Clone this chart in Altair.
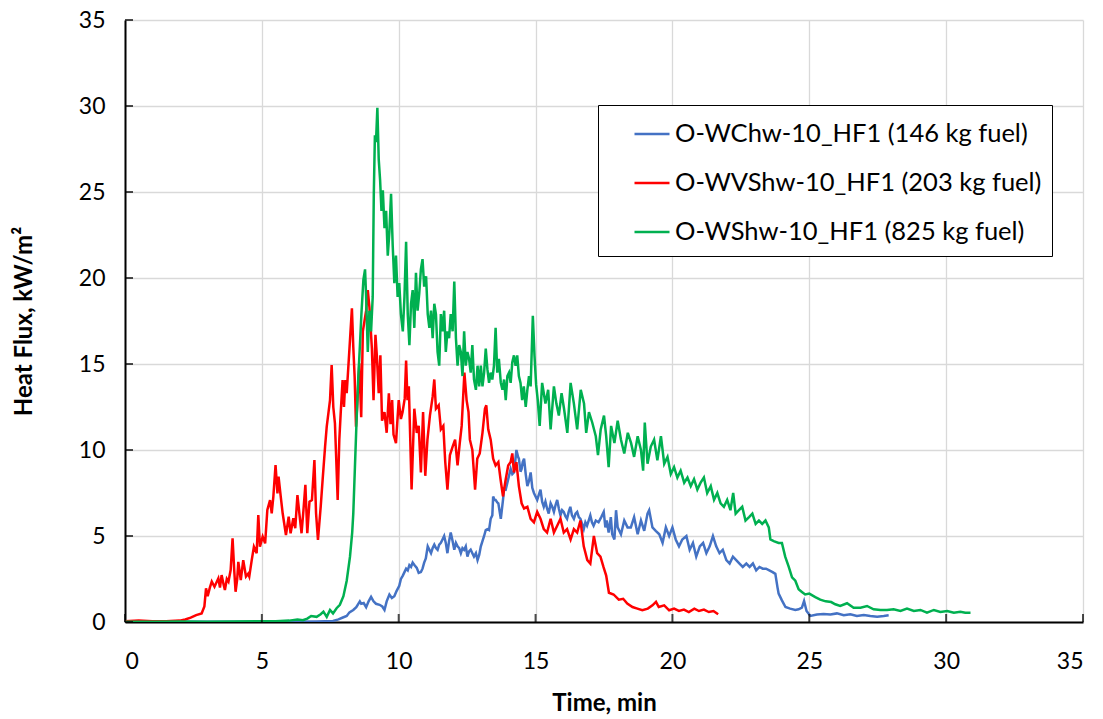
import altair as alt
import pandas as pd

x_ticks = [0, 5, 10, 15, 20, 25, 30, 35]
y_ticks = [0, 5, 10, 15, 20, 25, 30, 35]
series_names = ["O-WChw-10_HF1 (146 kg fuel)", "O-WVShw-10_HF1 (203 kg fuel)", "O-WShw-10_HF1 (825 kg fuel)"]
series_colors = ["#4472C4", "#FF0000", "#00B050"]

blue = [(0,0.02),(2,0.02),(4,0.02),(6,0.02),(7,0.03),(7.3,0.04),(7.6,0.06),(7.8,0.15),(7.96,0.26),(8.1,0.35),(8.2,0.56),(8.34,0.7),(8.45,0.86),(8.58,1.2),(8.63,1.06),(8.72,1.1),(8.81,0.86),(8.9,1.2),(8.99,1.46),(9.08,1.2),(9.17,1.06),(9.3,1.0),(9.4,0.9),(9.48,0.7),(9.56,1.2),(9.66,1.6),(9.75,1.4),(9.84,1.5),(9.92,1.8),(10.02,2.1),(10.08,2.5),(10.15,2.7),(10.21,2.9),(10.27,3.1),(10.33,3.0),(10.39,3.3),(10.45,3.2),(10.51,3.45),(10.58,3.3),(10.66,3.15),(10.73,2.85),(10.81,2.9),(10.87,3.1),(10.93,3.45),(10.99,3.7),(11.06,4.4),(11.12,4.2),(11.18,4.0),(11.24,4.3),(11.3,4.5),(11.36,4.3),(11.42,4.2),(11.48,4.5),(11.54,4.6),(11.6,4.8),(11.66,5.0),(11.72,4.6),(11.78,4.0),(11.84,4.7),(11.9,5.2),(11.97,4.7),(12.03,4.2),(12.09,4.6),(12.15,4.4),(12.21,4.3),(12.27,4.0),(12.33,4.3),(12.39,4.2),(12.45,4.4),(12.51,3.8),(12.57,4.1),(12.63,4.2),(12.69,4.0),(12.75,3.8),(12.82,4.0),(12.88,3.6),(12.94,3.9),(13.0,4.4),(13.06,4.7),(13.12,5.0),(13.18,5.35),(13.24,5.4),(13.3,5.35),(13.36,6.0),(13.42,6.2),(13.45,7.3),(13.5,7.1),(13.54,7.1),(13.6,6.95),(13.64,6.9),(13.73,6.0),(13.81,7.1),(13.85,7.74),(13.91,7.7),(14.0,8.3),(14.09,8.9),(14.15,8.6),(14.21,8.7),(14.26,9.4),(14.3,10.0),(14.36,9.6),(14.39,9.5),(14.45,8.74),(14.49,8.9),(14.53,9.3),(14.58,9.5),(14.64,8.6),(14.7,7.9),(14.76,8.2),(14.82,8.7),(14.88,7.8),(14.94,7.5),(15.0,7.3),(15.06,7.1),(15.12,7.4),(15.18,7.7),(15.24,7.0),(15.3,6.7),(15.36,7.0),(15.42,6.6),(15.48,6.3),(15.55,6.9),(15.61,6.7),(15.67,6.4),(15.73,6.8),(15.79,7.1),(15.85,6.6),(15.91,6.2),(15.97,6.5),(16.03,6.4),(16.09,6.15),(16.15,6.0),(16.21,6.4),(16.27,6.7),(16.33,6.2),(16.4,6.0),(16.46,6.3),(16.52,6.4),(16.58,6.1),(16.64,6.0),(16.7,5.7),(16.76,5.4),(16.82,5.8),(16.88,5.6),(16.94,5.9),(17.0,6.2),(17.06,5.8),(17.12,5.6),(17.2,5.9),(17.3,5.8),(17.4,6.1),(17.49,6.4),(17.55,5.5),(17.6,5.9),(17.67,5.2),(17.75,6.1),(17.8,5.1),(17.88,4.8),(17.94,6.5),(18.0,5.5),(18.12,5.1),(18.24,5.9),(18.36,5.5),(18.48,5.5),(18.6,6.1),(18.73,5.1),(18.85,5.9),(18.97,5.3),(19.09,6.3),(19.15,6.5),(19.27,5.5),(19.39,5.3),(19.52,5.1),(19.64,4.6),(19.76,5.5),(19.88,5.0),(20.0,5.5),(20.12,4.8),(20.24,4.4),(20.36,4.8),(20.51,5.0),(20.63,4.2),(20.75,4.6),(20.87,3.8),(21.0,4.4),(21.12,4.6),(21.24,4.0),(21.36,4.4),(21.48,5.0),(21.6,4.4),(21.72,4.0),(21.84,4.2),(21.97,3.6),(22.09,3.4),(22.21,3.8),(22.33,3.6),(22.45,3.4),(22.57,3.2),(22.7,3.4),(22.82,3.2),(22.94,3.4),(23.06,3.0),(23.18,3.2),(23.3,3.1),(23.42,3.1),(23.54,3.0),(23.66,2.9),(23.76,2.8),(23.84,2.0),(23.88,1.65),(24.0,1.26),(24.13,0.87),(24.3,0.78),(24.49,0.7),(24.61,0.74),(24.73,0.83),(24.81,1.22),(24.9,0.64),(25.04,0.35),(25.28,0.43),(25.52,0.47),(25.77,0.43),(26.01,0.5),(26.26,0.39),(26.5,0.45),(26.74,0.35),(26.99,0.41),(27.23,0.35),(27.48,0.31),(27.72,0.35),(27.9,0.39)]

red = [(0,0.05),(0.5,0.08),(1.0,0.05),(1.5,0.05),(2.0,0.08),(2.2,0.15),(2.4,0.25),(2.6,0.4),(2.8,0.5),(2.9,0.9),(2.96,1.96),(3.02,1.5),(3.1,2.0),(3.17,2.35),(3.27,2.05),(3.41,2.54),(3.47,2.0),(3.53,2.73),(3.6,2.2),(3.65,1.86),(3.72,2.5),(3.78,2.35),(3.86,3.02),(3.93,4.87),(3.99,3.02),(4.04,1.76),(4.1,2.5),(4.14,3.5),(4.23,2.44),(4.32,3.6),(4.42,2.64),(4.5,2.8),(4.54,2.64),(4.63,3.6),(4.71,4.38),(4.81,4.0),(4.87,6.22),(4.93,4.38),(5.03,4.96),(5.12,4.57),(5.2,6.51),(5.3,7.09),(5.36,6.32),(5.42,7.29),(5.5,9.13),(5.57,7.48),(5.61,8.45),(5.69,7.29),(5.76,6.32),(5.88,5.06),(5.98,6.12),(6.05,5.16),(6.15,6.03),(6.22,5.45),(6.3,7.38),(6.37,6.32),(6.45,5.16),(6.52,6.51),(6.59,7.97),(6.66,5.16),(6.74,7.0),(6.83,7.09),(6.92,9.42),(6.98,6.32),(7.05,4.77),(7.15,6.71),(7.22,8.26),(7.31,10.2),(7.37,11.36),(7.43,12.13),(7.49,12.9),(7.55,14.94),(7.61,12.5),(7.67,11.55),(7.71,9.8),(7.77,7.09),(7.83,10.6),(7.88,12.13),(7.95,14.07),(8.0,12.5),(8.05,14.07),(8.1,13.3),(8.16,14.85),(8.22,16.4),(8.29,18.24),(8.34,16.0),(8.39,14.26),(8.44,11.36),(8.5,13.1),(8.56,15.04),(8.63,11.9),(8.69,16.9),(8.75,17.5),(8.81,18.1),(8.87,19.3),(8.93,18.3),(9.02,15.9),(9.08,12.9),(9.15,16.7),(9.2,15.5),(9.27,13.3),(9.33,15.5),(9.39,11.7),(9.48,12.2),(9.56,11.0),(9.64,13.3),(9.7,11.5),(9.76,12.9),(9.81,10.9),(9.9,10.4),(10.0,12.9),(10.08,11.8),(10.14,12.2),(10.22,13.0),(10.27,15.2),(10.32,12.9),(10.37,13.7),(10.47,7.7),(10.57,12.4),(10.66,11.0),(10.73,11.4),(10.81,8.7),(10.89,12.2),(10.97,8.5),(11.05,10.6),(11.14,12.0),(11.24,13.1),(11.3,14.1),(11.36,12.4),(11.46,12.6),(11.54,11.2),(11.63,11.4),(11.7,9.3),(11.78,7.7),(11.87,9.7),(11.97,10.2),(12.06,10.6),(12.15,9.1),(12.23,10.4),(12.3,11.4),(12.4,14.5),(12.48,12.9),(12.55,12.2),(12.6,10.6),(12.69,10.0),(12.79,7.7),(12.87,9.5),(12.96,9.8),(13.06,11.0),(13.15,12.4),(13.2,12.6),(13.27,11.2),(13.36,10.6),(13.45,9.5),(13.54,9.1),(13.64,9.3),(13.72,8.3),(13.81,7.3),(13.91,8.3),(14.0,9.1),(14.09,9.3),(14.15,9.8),(14.21,8.7),(14.3,9.3),(14.39,7.9),(14.49,6.9),(14.58,6.6),(14.7,6.7),(14.82,6.0),(14.94,5.8),(15.06,6.4),(15.18,6.0),(15.3,5.4),(15.42,5.2),(15.55,6.0),(15.67,5.2),(15.79,5.6),(15.91,6.0),(16.03,5.2),(16.15,5.4),(16.28,4.8),(16.4,5.4),(16.52,5.2),(16.64,5.9),(16.76,4.4),(16.89,3.6),(17.0,3.4),(17.13,5.0),(17.25,4.0),(17.37,3.8),(17.48,3.2),(17.58,2.7),(17.68,1.7),(17.85,1.6),(18.04,1.3),(18.2,1.35),(18.35,1.07),(18.54,0.87),(18.72,0.78),(18.9,0.68),(19.1,0.78),(19.27,0.97),(19.4,1.17),(19.5,0.87),(19.7,0.97),(19.88,0.68),(20.06,0.78),(20.24,0.64),(20.42,0.72),(20.6,0.58),(20.8,0.78),(20.97,0.64),(21.15,0.72),(21.33,0.58),(21.5,0.64),(21.67,0.45)]

green = [(0,0.02),(1,0.02),(2,0.03),(3,0.02),(4,0.03),(5,0.05),(5.5,0.05),(6.0,0.08),(6.3,0.15),(6.5,0.1),(6.66,0.2),(6.8,0.35),(7.0,0.3),(7.15,0.45),(7.25,0.6),(7.37,0.3),(7.49,0.7),(7.6,0.5),(7.73,0.8),(7.85,1.0),(7.98,1.5),(8.1,2.4),(8.22,3.8),(8.3,5.2),(8.34,6.3),(8.4,9.0),(8.46,11.7),(8.52,14.1),(8.58,16.0),(8.64,18.0),(8.71,19.9),(8.77,20.5),(8.81,18.9),(8.87,15.7),(8.93,18.1),(8.99,16.9),(9.05,18.9),(9.09,24.9),(9.13,28.3),(9.17,27.9),(9.22,29.9),(9.27,26.9),(9.32,25.7),(9.37,23.9),(9.42,25.1),(9.48,22.9),(9.54,23.9),(9.6,21.3),(9.66,22.7),(9.72,24.9),(9.78,21.9),(9.84,19.7),(9.9,21.3),(9.96,18.9),(10.02,19.7),(10.08,17.9),(10.15,16.9),(10.21,18.9),(10.27,22.1),(10.33,17.9),(10.39,16.1),(10.45,18.5),(10.51,19.3),(10.57,17.1),(10.63,20.3),(10.69,18.1),(10.75,19.1),(10.81,20.5),(10.87,21.1),(10.93,19.5),(11.0,20.1),(11.06,17.9),(11.12,17.1),(11.18,18.1),(11.24,16.5),(11.3,18.5),(11.36,17.9),(11.42,15.7),(11.48,14.9),(11.54,17.9),(11.6,16.9),(11.66,18.1),(11.72,15.7),(11.78,16.9),(11.84,16.5),(11.9,17.9),(11.97,16.9),(12.03,19.8),(12.09,16.5),(12.15,14.9),(12.21,16.1),(12.27,15.7),(12.33,14.3),(12.39,16.9),(12.45,14.9),(12.51,15.7),(12.57,15.3),(12.63,14.5),(12.69,16.1),(12.75,14.1),(12.82,13.5),(12.88,14.9),(12.94,13.7),(13.0,14.9),(13.06,13.7),(13.12,14.5),(13.18,15.9),(13.24,14.7),(13.3,13.9),(13.36,14.5),(13.42,14.1),(13.48,14.9),(13.54,17.1),(13.6,14.5),(13.66,15.3),(13.73,13.9),(13.79,13.5),(13.85,14.1),(13.91,12.9),(13.97,14.3),(14.03,14.5),(14.09,13.9),(14.15,15.1),(14.21,15.5),(14.27,14.9),(14.33,15.5),(14.39,14.3),(14.45,13.9),(14.51,12.9),(14.57,13.7),(14.64,12.5),(14.7,13.5),(14.76,14.3),(14.82,13.7),(14.9,17.8),(14.96,15.5),(15.02,13.8),(15.08,12.9),(15.15,11.4),(15.24,13.9),(15.36,12.7),(15.46,13.5),(15.55,11.2),(15.67,13.7),(15.76,12.7),(15.85,12.0),(15.95,13.3),(16.04,12.4),(16.16,11.0),(16.28,13.9),(16.4,12.7),(16.52,11.2),(16.65,13.5),(16.77,12.7),(16.85,11.0),(16.95,12.2),(17.07,11.6),(17.2,10.8),(17.28,9.7),(17.38,11.2),(17.5,12.0),(17.58,10.8),(17.67,9.0),(17.76,11.4),(17.88,10.4),(18.0,11.7),(18.12,10.6),(18.24,9.8),(18.37,11.0),(18.49,10.4),(18.6,9.6),(18.73,10.8),(18.85,10.0),(18.93,8.8),(18.99,11.6),(19.09,9.2),(19.21,10.2),(19.33,10.6),(19.45,9.4),(19.58,10.8),(19.7,9.2),(19.82,9.6),(19.94,8.6),(20.06,9.0),(20.18,8.4),(20.3,8.8),(20.43,8.1),(20.55,8.4),(20.67,7.9),(20.79,8.3),(20.91,7.7),(21.03,8.1),(21.15,8.4),(21.27,7.5),(21.4,7.9),(21.52,7.1),(21.64,7.5),(21.76,6.9),(21.88,6.7),(22.0,7.1),(22.12,6.5),(22.22,7.5),(22.31,6.3),(22.43,6.5),(22.55,6.7),(22.67,5.9),(22.8,6.1),(22.92,6.3),(23.04,5.7),(23.16,5.9),(23.28,5.7),(23.4,5.9),(23.52,5.5),(23.58,4.8),(23.7,4.7),(23.88,4.6),(24.0,4.6),(24.12,3.8),(24.25,3.2),(24.37,2.6),(24.49,2.4),(24.61,1.9),(24.73,1.75),(24.85,1.6),(25.0,1.65),(25.22,1.45),(25.4,1.3),(25.6,1.2),(25.8,1.16),(25.95,1.03),(26.13,0.93),(26.38,1.09),(26.62,0.83),(26.87,0.83),(27.11,0.93),(27.35,0.74),(27.6,0.7),(27.84,0.7),(28.08,0.74),(28.33,0.64),(28.57,0.78),(28.82,0.64),(29.06,0.7),(29.3,0.54),(29.55,0.7),(29.79,0.58),(30.04,0.64),(30.28,0.54),(30.52,0.6),(30.7,0.54),(30.89,0.54)]

FONT = "Lato"

rows = []
for name, pts in zip(series_names, [blue, red, green]):
    for i, (t, v) in enumerate(pts):
        rows.append({"series": name, "t": t, "v": v, "idx": i})
df = pd.DataFrame(rows)

xscale = alt.Scale(domain=[0, 35], nice=False)
yscale = alt.Scale(domain=[0, 35], nice=False)

x_axis = alt.Axis(values=x_ticks, title="Time, min", titleFont=FONT, titleFontSize=24,
                  titleFontWeight="bold", titleColor="black", titlePadding=18,
                  labelFont=FONT, labelFontSize=23, labelColor="black", labelPadding=28,
                  ticks=False, tickSize=0, domainColor="black", domainWidth=2,
                  gridColor="#d9d9d9", gridWidth=1.3)
y_axis = alt.Axis(values=y_ticks, title="Heat Flux, kW/m²", titleFont=FONT, titleFontSize=24,
                  titleFontWeight="bold", titleColor="black", titlePadding=42,
                  labelFont=FONT, labelFontSize=23, labelColor="black", labelPadding=20,
                  ticks=False, tickSize=0, domainColor="black", domainWidth=2,
                  gridColor="#d9d9d9", gridWidth=1.3)

legend = alt.Legend(title=None, orient="none", legendX=473, legendY=85, direction="vertical",
                    fillColor="white", strokeColor="black", padding=10,
                    symbolType="stroke", symbolSize=1225, symbolStrokeWidth=2.5,
                    symbolOffset=25, labelFont=FONT, labelFontSize=25.5, labelColor="black",
                    labelOffset=4, rowPadding=16, labelLimit=1000)

color = alt.Color("series:N", scale=alt.Scale(domain=series_names, range=series_colors), legend=legend)

layers = []
for name in series_names:
    layers.append(
        alt.Chart(df).transform_filter(alt.datum.series == name)
        .mark_line(strokeWidth=2.5, clip=True)
        .encode(x=alt.X("t:Q", scale=xscale, axis=x_axis),
                y=alt.Y("v:Q", scale=yscale, axis=y_axis),
                color=color, order="idx:Q")
    )

xt = alt.Chart(pd.DataFrame({"t": x_ticks})).mark_tick(
    orient="vertical", size=8, thickness=2, color="black", yOffset=-4
).encode(x=alt.X("t:Q", scale=xscale), y=alt.datum(0))
yt = alt.Chart(pd.DataFrame({"v": y_ticks})).mark_tick(
    orient="horizontal", size=8, thickness=2, color="black", xOffset=4
).encode(y=alt.Y("v:Q", scale=yscale), x=alt.datum(0))

chart = alt.layer(*layers, xt, yt).properties(
    width=958, height=602,
    padding={"left": 125, "top": 20, "right": 20, "bottom": 97},
    autosize=alt.AutoSizeParams(type="none"),
    background="white",
).configure_view(stroke=None)

chart.save("out.html", embed_options={"renderer": "svg", "actions": False})
